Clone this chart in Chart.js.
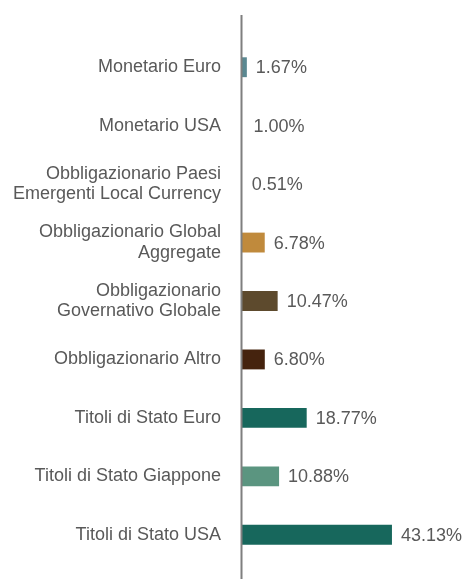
<!DOCTYPE html>
<html>
<head>
<meta charset="utf-8">
<script src="https://cdn.jsdelivr.net/npm/chart.js@4"></script>
<style>
  html, body { margin: 0; padding: 0; background: #fff; }
  #wrap { width: 464px; height: 579px; }
</style>
</head>
<body>
<div id="wrap"><canvas id="myChart" width="464" height="579"></canvas></div>
<script>
const categorie = [
  'Monetario Euro',
  'Monetario USA',
  ['Obbligazionario Paesi', 'Emergenti Local Currency'],
  ['Obbligazionario Global', 'Aggregate'],
  ['Obbligazionario', 'Governativo Globale'],
  'Obbligazionario Altro',
  'Titoli di Stato Euro',
  'Titoli di Stato Giappone',
  'Titoli di Stato USA'
]
const pesi = [1.67, 1.00, 0.51, 6.78, 10.47, 6.80, 18.77, 10.88, 43.13]
const colori = ['#5a8891', '#ffffff', '#ffffff', '#c08a3c', '#5d4a2d', '#45230e', '#17675c', '#5b9580', '#17675c']

const grigio = '#595959'
const fontTesto = 'Liberation Sans, Arial, sans-serif'

// etichette con il valore a destra di ogni barra
const valoriPlugin = {
  id: 'valori',
  afterDatasetsDraw(chart) {
    const ctx = chart.ctx
    const meta = chart.getDatasetMeta(0)
    ctx.save()
    ctx.font = '18px ' + fontTesto
    ctx.fillStyle = grigio
    ctx.textAlign = 'left'
    ctx.textBaseline = 'middle'
    meta.data.forEach((bar, i) => {
      ctx.fillText(pesi[i].toFixed(2) + '%', bar.x + 9, bar.y + 1)
    })
    ctx.restore()
  }
}

// linea verticale dell'asse sullo zero
const assePlugin = {
  id: 'asse',
  afterDatasetsDraw(chart) {
    const ctx = chart.ctx
    const x = Math.round(chart.scales.x.getPixelForValue(0)) + 0.5
    ctx.save()
    ctx.strokeStyle = '#7f7f7f'
    ctx.lineWidth = 2
    ctx.beginPath()
    ctx.moveTo(x, 15)
    ctx.lineTo(x, chart.height)
    ctx.stroke()
    ctx.restore()
  }
}

const ctx = document.getElementById('myChart')

new Chart(ctx, {
  type: 'bar',
  data: {
    labels: categorie,
    datasets: [{
      data: pesi,
      backgroundColor: colori,
      borderWidth: 0,
      barPercentage: 0.34,
      categoryPercentage: 1
    }]
  },
  options: {
    indexAxis: 'y',
    responsive: false,
    animation: false,
    layout: { padding: { top: 38, bottom: 15, left: 0, right: 48 } },
    plugins: {
      legend: { display: false },
      tooltip: { enabled: false }
    },
    scales: {
      x: {
        display: false,
        min: 0,
        max: 50
      },
      y: {
        grid: { display: false, drawTicks: false },
        border: { display: false },
        afterFit(scale) {
          scale.width = 241
          scale.paddingTop = 0
          scale.paddingBottom = 0
        },
        ticks: {
          color: grigio,
          padding: 20,
          font: { family: fontTesto, size: 18, lineHeight: 1.12 }
        }
      }
    }
  },
  plugins: [valoriPlugin, assePlugin]
})
</script>
</body>
</html>
